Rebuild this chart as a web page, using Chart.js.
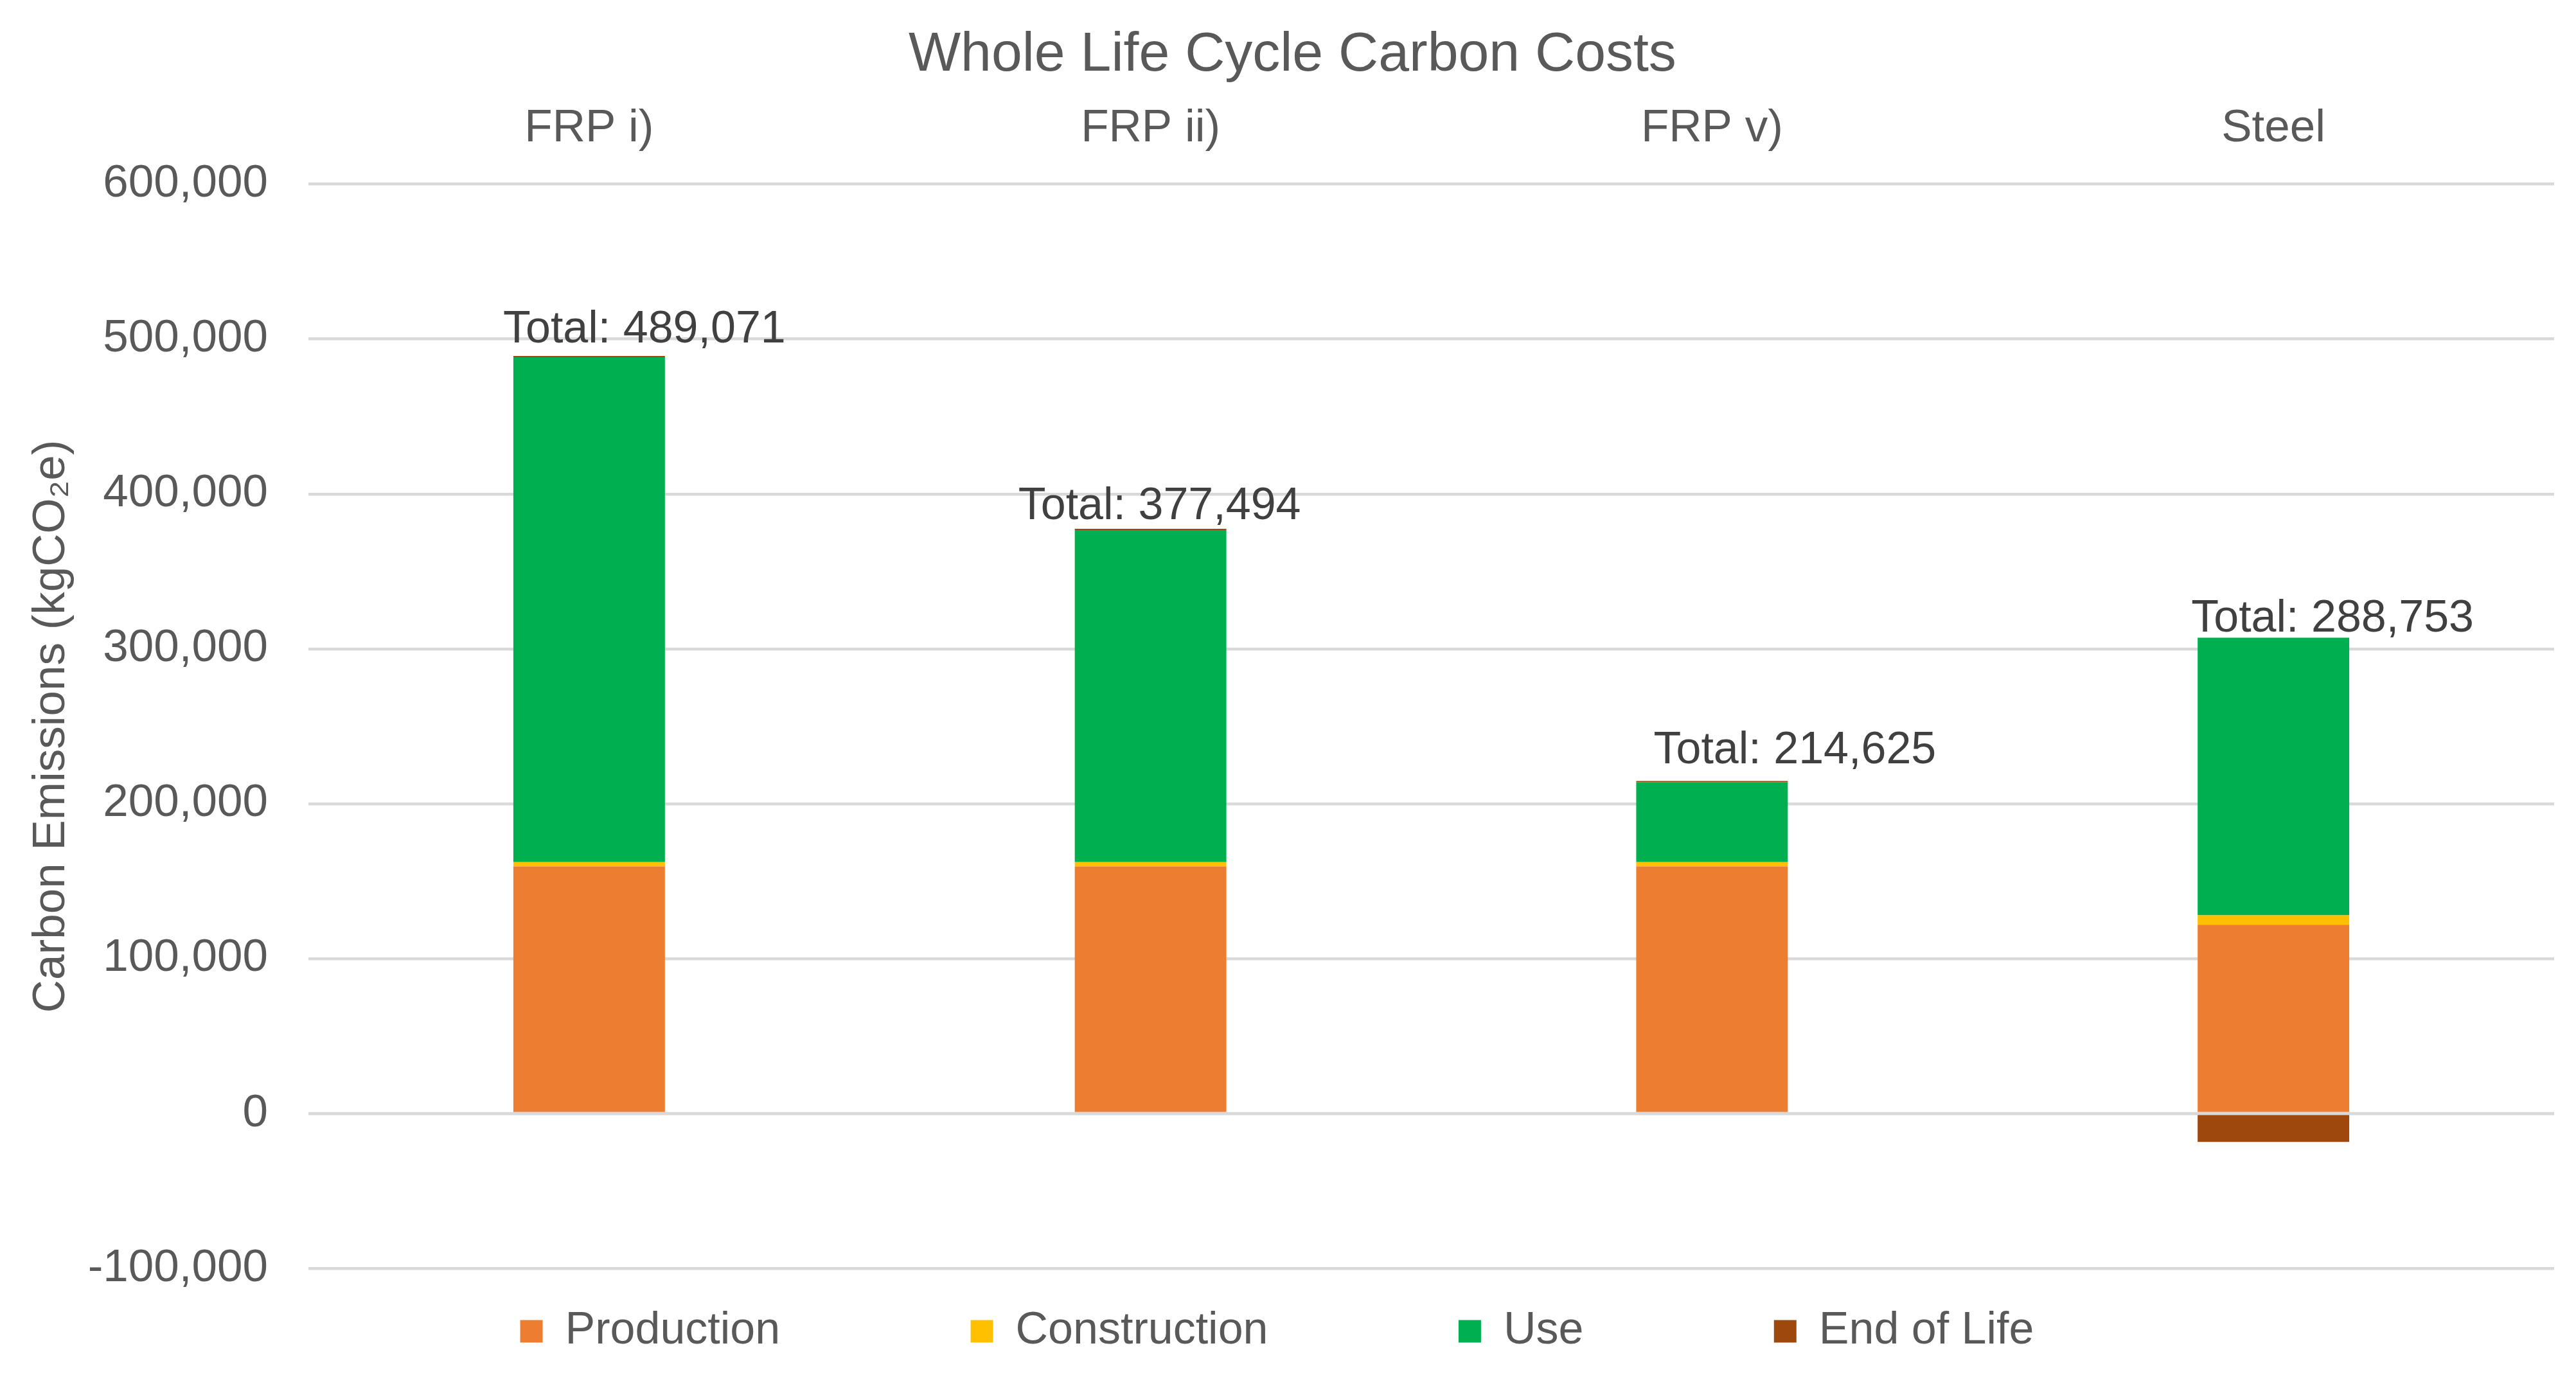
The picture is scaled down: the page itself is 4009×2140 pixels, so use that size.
<!DOCTYPE html>
<html>
<head>
<meta charset="utf-8">
<script src="https://cdn.jsdelivr.net/npm/chart.js@4.4.1/dist/chart.umd.min.js"></script>
<style>
    html, body { margin: 0; padding: 0; background: #fff; }
    #wrap { width: 4009px; height: 2140px; }
</style>
</head>
<body>
<div id="wrap"><canvas id="grafico" width="4009" height="2140"></canvas></div>
<script>
// datos (kgCO2e)
var categorias = ['FRP i)', 'FRP ii)', 'FRP v)', 'Steel'];
var production = [159500, 159500, 159500, 121800];
var construction = [2800, 2800, 2800, 6200];
var use = [325971, 214394, 51525, 179153];
var endOfLife = [800, 800, 800, -18400];

var yMin = -100000;
var yMax = 600000;
var yStep = 100000;

// desplazamiento manual de las etiquetas "Total" (px): [dx, dy sobre la barra]
var ajusteEtiquetas = [[86, 21], [14, 15], [129, 28], [92, 10]];

var FUENTE = '"Liberation Sans", Arial, sans-serif';
var GRIS = '#595959';

var totalesPlugin = {
    id: 'totales',
    afterDatasetsDraw: function (chart) {
        var ctx = chart.ctx;
        var x = chart.scales.x;
        var y = chart.scales.y;
        var area = chart.chartArea;

        // linea del eje en 0 por encima de las barras
        ctx.save();
        var y0 = y.getPixelForValue(0);
        ctx.strokeStyle = '#D9D9D9';
        ctx.lineWidth = 4.5;
        ctx.beginPath();
        ctx.moveTo(area.left, y0);
        ctx.lineTo(area.right, y0);
        ctx.stroke();

        ctx.font = '70px ' + FUENTE;
        ctx.fillStyle = '#404040';
        ctx.textAlign = 'center';
        ctx.textBaseline = 'alphabetic';
        categorias.forEach(function (c, i) {
            var valores = [production[i], construction[i], use[i], endOfLife[i]];
            var total = valores.reduce(function (a, b) { return a + b; }, 0);
            var tope = valores.filter(function (v) { return v > 0; })
                .reduce(function (a, b) { return a + b; }, 0);
            var px = x.getPixelForValue(i) + ajusteEtiquetas[i][0];
            var py = y.getPixelForValue(tope) - ajusteEtiquetas[i][1];
            ctx.fillText('Total: ' + total.toLocaleString('en-US'), px, py);
        });
        ctx.restore();
    }
};

function serie(nombre, datos, color) {
    return {
        label: nombre,
        data: datos,
        backgroundColor: color,
        borderWidth: 0,
        categoryPercentage: 1,
        barPercentage: 0.27
    };
}

var ctx = document.getElementById('grafico').getContext('2d');

new Chart(ctx, {
    type: 'bar',
    data: {
        labels: categorias,
        datasets: [
            serie('Production', production, '#ED7D31'),
            serie('Construction', construction, '#FFC000'),
            serie('Use', use, '#00B050'),
            serie('End of Life', endOfLife, '#9E480E')
        ]
    },
    options: {
        responsive: false,
        devicePixelRatio: 1,
        animation: false,
        layout: {
            padding: { left: 0, right: 34, top: 0, bottom: 23 }
        },
        plugins: {
            title: {
                display: true,
                // dos espacios delante para centrarlo como en el original
                text: '  Whole Life Cycle Carbon Costs',
                color: GRIS,
                font: { family: FUENTE, size: 86, weight: 'normal' },
                padding: { top: 35, bottom: 0 }
            },
            legend: {
                position: 'bottom',
                labels: {
                    color: GRIS,
                    font: { family: FUENTE, size: 70 },
                    boxWidth: 35,
                    boxHeight: 35,
                    padding: 63,
                    generateLabels: function (chart) {
                        var items = Chart.defaults.plugins.legend.labels.generateLabels(chart);
                        items.forEach(function (it, i) {
                            if (i < items.length - 1) {
                                it.text = it.text + '            ';
                            }
                            it.lineWidth = 0;
                        });
                        return items;
                    }
                }
            },
            tooltip: { enabled: false }
        },
        scales: {
            x: {
                position: 'top',
                stacked: true,
                grid: { display: false, drawTicks: false },
                border: { display: false },
                ticks: {
                    color: GRIS,
                    font: { family: FUENTE, size: 71 },
                    padding: 44,
                    maxRotation: 0
                },
                afterFit: function (scale) {
                    scale.height = 148.5;
                }
            },
            y: {
                stacked: true,
                min: yMin,
                max: yMax,
                grid: {
                    color: '#D9D9D9',
                    lineWidth: 4.5,
                    drawTicks: false
                },
                border: { display: false },
                ticks: {
                    stepSize: yStep,
                    color: GRIS,
                    font: { family: FUENTE, size: 71 },
                    padding: 63,
                    callback: function (v) {
                        return Number(v).toLocaleString('en-US');
                    }
                },
                title: {
                    display: true,
                    text: 'Carbon Emissions (kgCO\u2082e)',
                    color: GRIS,
                    font: { family: FUENTE, size: 71 },
                    padding: { top: 38, bottom: 0 }
                },
                afterFit: function (scale) {
                    scale.width = 480;
                }
            }
        }
    },
    plugins: [totalesPlugin]
});
</script>
</body>
</html>
